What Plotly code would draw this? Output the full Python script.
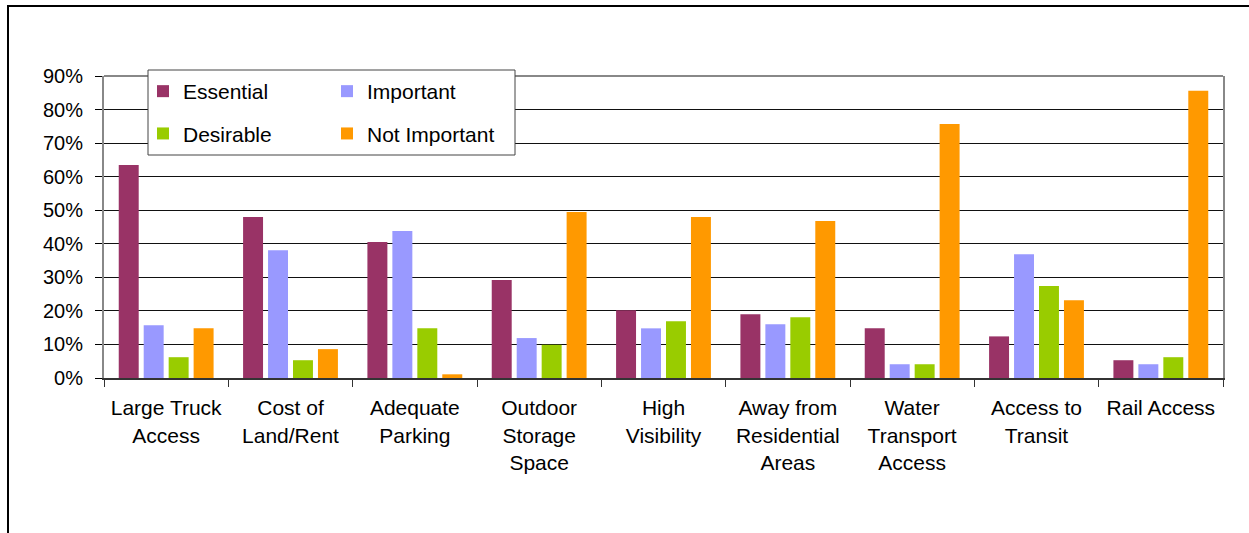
import plotly.graph_objects as go

# Survey: importance of location factors
categories = [
    "Large Truck<br>Access",
    "Cost of<br>Land/Rent",
    "Adequate<br>Parking",
    "Outdoor<br>Storage<br>Space",
    "High<br>Visibility",
    "Away from<br>Residential<br>Areas",
    "Water<br>Transport<br>Access",
    "Access to<br>Transit",
    "Rail Access",
]

essential = [0.635, 0.480, 0.405, 0.292, 0.202, 0.190, 0.148, 0.124, 0.053]
important = [0.157, 0.381, 0.438, 0.119, 0.148, 0.160, 0.041, 0.369, 0.041]
desirable = [0.062, 0.053, 0.148, 0.099, 0.169, 0.181, 0.041, 0.274, 0.062]
not_important = [0.148, 0.086, 0.011, 0.495, 0.480, 0.468, 0.757, 0.232, 0.856]

y_ticks = [0, 0.1, 0.2, 0.3, 0.4, 0.5, 0.6, 0.7, 0.8, 0.9]
y_tick_text = ["0%", "10%", "20%", "30%", "40%", "50%", "60%", "70%", "80%", "90%"]

series = [
    ("Essential", essential, "#993366", "legend", "g1"),
    ("Important", important, "#9999FF", "legend2", "g2"),
    ("Desirable", desirable, "#99CC00", "legend", "g3"),
    ("Not Important", not_important, "#FF9900", "legend2", "g4"),
]

W, H = 1249, 533
ML, MR, MT, MB = 104, 26, 76, 155
PW, PH = W - ML - MR, H - MT - MB


def px_x(p):
    return (p - ML) / PW


def px_y(p):
    return (H - MB - p) / PH


FONT = "Liberation Sans, Arial, sans-serif"

fig = go.Figure()
for name, vals, color, leg, grp in series:
    fig.add_trace(go.Bar(
        x=categories, y=vals, name=name,
        marker=dict(color=color, line=dict(width=0)),
        legend=leg, legendgroup=grp,
    ))

legend_common = dict(
    bgcolor="rgba(0,0,0,0)", borderwidth=0,
    font=dict(family=FONT, size=21, color="#000"),
    xanchor="left", yanchor="top", orientation="v",
    tracegroupgap=12, traceorder="grouped",
)

fig.update_layout(
    width=W, height=H,
    margin=dict(l=ML, r=MR, t=MT, b=MB, pad=0),
    paper_bgcolor="white", plot_bgcolor="white",
    barmode="group", bargap=0.197, bargroupgap=0.2,
    font=dict(family=FONT, size=21, color="#000"),
    showlegend=True,
    legend=dict(x=px_x(143), y=px_y(71), **legend_common),
    legend2=dict(x=px_x(327), y=px_y(71), **legend_common),
    xaxis=dict(
        showline=True, linecolor="#333", linewidth=2,
        ticks="outside", ticklen=7, tickcolor="#333", tickwidth=1,
        tickson="boundaries", showgrid=False,
        tickfont=dict(family=FONT, size=21, color="#000"),
        ticklabelstandoff=10,
    ),
    yaxis=dict(
        range=[0, 0.9], tickvals=y_ticks, ticktext=y_tick_text,
        showline=True, linecolor="#888", linewidth=2, mirror=True,
        ticks="outside", ticklen=7, tickcolor="#000", tickwidth=1,
        showgrid=True, gridcolor="#111", gridwidth=1,
        tickfont=dict(family=FONT, size=20, color="#000"),
        ticklabelstandoff=8, zeroline=False,
    ),
    shapes=[
        # top border of the plot area
        dict(type="line", xref="paper", yref="paper", x0=0, x1=1, y0=1, y1=1,
             line=dict(color="#888", width=2), layer="above"),
        # legend frame
        dict(type="rect", xref="paper", yref="paper",
             x0=px_x(148), x1=px_x(515), y0=px_y(70), y1=px_y(155),
             fillcolor="white", line=dict(color="#444", width=1), layer="above"),
        # outer chart frame
        dict(type="rect", xref="paper", yref="paper",
             x0=px_x(8), x1=px_x(W + 10), y0=px_y(6), y1=px_y(H + 10),
             fillcolor="rgba(0,0,0,0)", line=dict(color="#000", width=2), layer="above"),
    ],
)

fig.write_html("out.html")
